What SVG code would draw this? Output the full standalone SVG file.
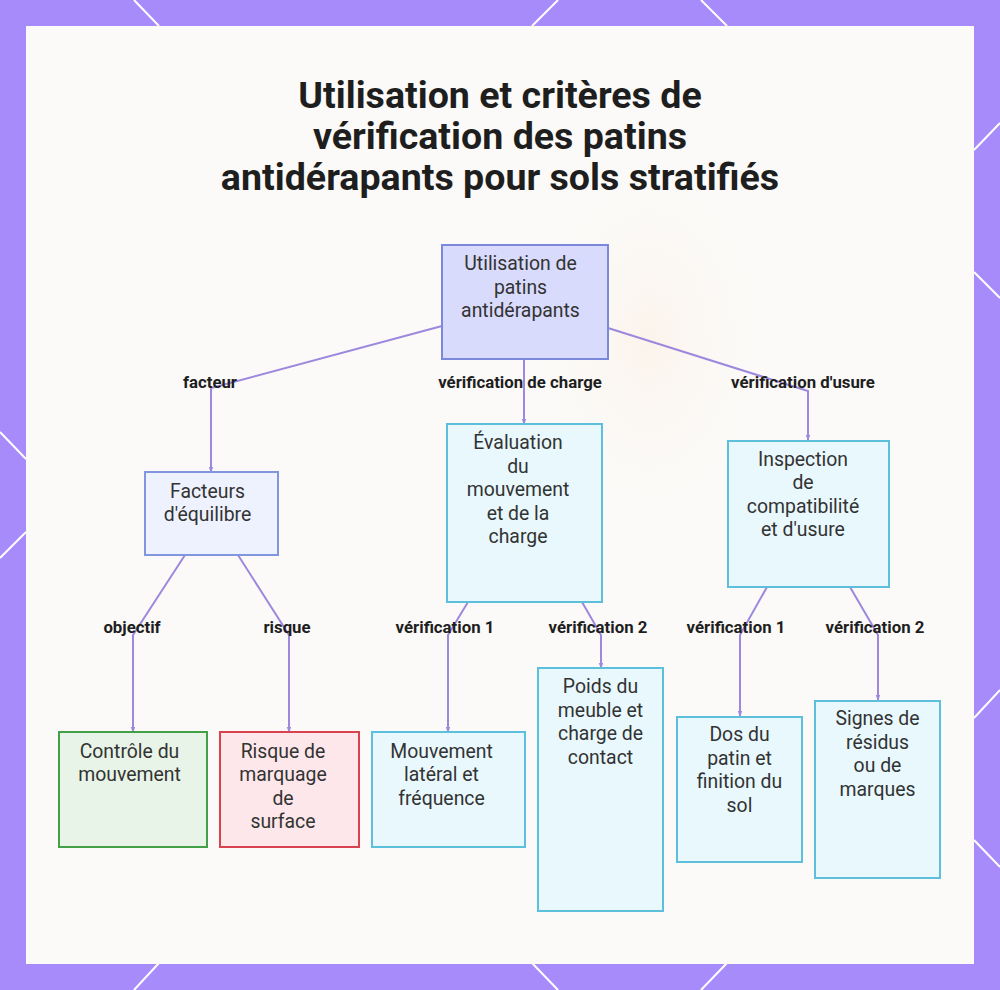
<svg xmlns="http://www.w3.org/2000/svg" width="1000" height="990" viewBox="0 0 1000 990">
<defs>
<style>
.title{font-family:Roboto,"Liberation Sans",sans-serif;font-weight:700;font-size:37.6px;fill:#1e1e1e;text-anchor:middle}
.nt{font-family:Roboto,"Liberation Sans",sans-serif;font-size:19.4px;fill:#333;text-anchor:middle}
.lb{font-family:Roboto,"Liberation Sans",sans-serif;font-weight:700;font-size:16.8px;fill:#1e1e1e;text-anchor:middle}
.edge{fill:none;stroke:#9d88dd;stroke-width:2;marker-end:url(#ah)}
.deco{stroke:#ffffff;stroke-width:2;fill:none}
.root{fill:#d9dbfc;stroke:#7c88dc;stroke-width:2}
.lav{fill:#eef2fe;stroke:#8196dd;stroke-width:2}
.cyan{fill:#e8f8fd;stroke:#5cc0dc;stroke-width:2}
.green{fill:#e7f4e7;stroke:#43a047;stroke-width:2}
.red{fill:#fde7ea;stroke:#d9434f;stroke-width:2}
</style>
<marker id="ah" viewBox="0 0 6 6" refX="5" refY="3" markerWidth="6" markerHeight="6" markerUnits="userSpaceOnUse" orient="auto">
<path d="M0,0.8 L6,3 L0,5.2 Z" fill="#9d88dd"/>
</marker>
<radialGradient id="warm" cx="0.5" cy="0.5" r="0.5">
<stop offset="0" stop-color="#fcf1e6" stop-opacity="0.7"/>
<stop offset="1" stop-color="#fbfaf8" stop-opacity="0"/>
</radialGradient>
</defs>
<rect x="0" y="0" width="1000" height="990" fill="#a78bfa"/>
<g id="decoration">
<path class="deco" d="M134,0 L159,26 M558,0 L532,26 M701,0 L727,26 M1000,123 L974,150 M974,272 L1000,298 M974,718 L1000,690 M974,840 L1000,867 M159,963 L134,990 M532,963 L558,990 M727,963 L701,990 M0,432 L26,459 M26,532 L0,558"/>
</g>
<rect x="26" y="26" width="948" height="938" fill="#fbfaf8"/>
<ellipse cx="650" cy="340" rx="130" ry="200" fill="url(#warm)"/>
<g id="title">
<text class="title" x="500" y="108">Utilisation et critères de</text>
<text class="title" x="500" y="149">vérification des patins</text>
<text class="title" x="500" y="190">antidérapants pour sols stratifiés</text>
</g>
<g id="connectors">
<path class="edge" d="M442,326 L211,388 L211,472"/>
<path class="edge" d="M524,359 L524,424"/>
<path class="edge" d="M608,328 L808,391 L808,440"/>
<path class="edge" d="M185,555 L133,635 L133,732"/>
<path class="edge" d="M238,555 L289,635 L289,732"/>
<path class="edge" d="M468,602 L448,635 L448,732"/>
<path class="edge" d="M582,602 L601,635 L601,668"/>
<path class="edge" d="M767,587 L740,635 L740,716"/>
<path class="edge" d="M850,587 L878,635 L878,700"/>
<text class="lb" x="210" y="388">facteur</text>
<text class="lb" x="520" y="388">vérification de charge</text>
<text class="lb" x="803" y="388">vérification d'usure</text>
<text class="lb" x="132" y="633">objectif</text>
<text class="lb" x="287" y="633">risque</text>
<text class="lb" x="445" y="633">vérification 1</text>
<text class="lb" x="598" y="633">vérification 2</text>
<text class="lb" x="736" y="633">vérification 1</text>
<text class="lb" x="875" y="633">vérification 2</text>
</g>
<g id="node-root">
<rect class="root" x="442" y="245" width="166" height="114"/>
<text class="nt" x="520.5" y="270">Utilisation de</text>
<text class="nt" x="520.5" y="293.5">patins</text>
<text class="nt" x="520.5" y="317">antidérapants</text>
</g>
<g id="node-facteurs">
<rect class="lav" x="145" y="472" width="133" height="83"/>
<text class="nt" x="207.5" y="498">Facteurs</text>
<text class="nt" x="207.5" y="521">d'équilibre</text>
</g>
<g id="node-evaluation">
<rect class="cyan" x="447" y="424" width="155" height="178"/>
<text class="nt" x="518" y="449">Évaluation</text>
<text class="nt" x="518" y="472.5">du</text>
<text class="nt" x="518" y="496">mouvement</text>
<text class="nt" x="518" y="519.5">et de la</text>
<text class="nt" x="518" y="543">charge</text>
</g>
<g id="node-inspection">
<rect class="cyan" x="728" y="441" width="161" height="146"/>
<text class="nt" x="803" y="466">Inspection</text>
<text class="nt" x="803" y="489">de</text>
<text class="nt" x="803" y="512.5">compatibilité</text>
<text class="nt" x="803" y="536">et d'usure</text>
</g>
<g id="node-controle">
<rect class="green" x="59" y="732" width="148" height="115"/>
<text class="nt" x="129.5" y="758">Contrôle du</text>
<text class="nt" x="129.5" y="781">mouvement</text>
</g>
<g id="node-risque">
<rect class="red" x="220" y="732" width="139" height="115"/>
<text class="nt" x="283" y="758">Risque de</text>
<text class="nt" x="283" y="781">marquage</text>
<text class="nt" x="283" y="804.5">de</text>
<text class="nt" x="283" y="828">surface</text>
</g>
<g id="node-mouvement">
<rect class="cyan" x="372" y="732" width="153" height="115"/>
<text class="nt" x="441.5" y="758">Mouvement</text>
<text class="nt" x="441.5" y="781">latéral et</text>
<text class="nt" x="441.5" y="804.5">fréquence</text>
</g>
<g id="node-poids">
<rect class="cyan" x="538" y="668" width="125" height="243"/>
<text class="nt" x="600.5" y="693">Poids du</text>
<text class="nt" x="600.5" y="716.5">meuble et</text>
<text class="nt" x="600.5" y="740">charge de</text>
<text class="nt" x="600.5" y="763.5">contact</text>
</g>
<g id="node-dos">
<rect class="cyan" x="677" y="717" width="125" height="145"/>
<text class="nt" x="739.5" y="741">Dos du</text>
<text class="nt" x="739.5" y="764.5">patin et</text>
<text class="nt" x="739.5" y="788">finition du</text>
<text class="nt" x="739.5" y="811.5">sol</text>
</g>
<g id="node-signes">
<rect class="cyan" x="815" y="701" width="125" height="177"/>
<text class="nt" x="877.5" y="725">Signes de</text>
<text class="nt" x="877.5" y="748.5">résidus</text>
<text class="nt" x="877.5" y="772">ou de</text>
<text class="nt" x="877.5" y="795.5">marques</text>
</g>
</svg>
